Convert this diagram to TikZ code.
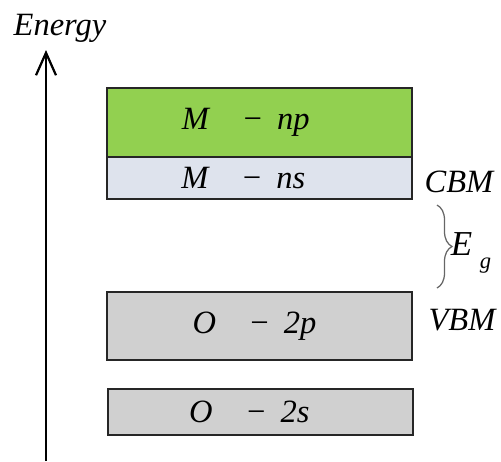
\documentclass[tikz,border=0pt]{standalone}
\usepackage{fontspec}
\setmainfont{Liberation Serif}
\usepackage{xcolor}
\usepackage{tikz}
\usetikzlibrary{positioning,arrows.meta,decorations.pathreplacing}

\definecolor{npgreen}{RGB}{146,208,80}
\definecolor{nsblue}{RGB}{222,227,237}
\definecolor{ogray}{RGB}{208,208,208}

\begin{document}
\begin{tikzpicture}[x=0.4pt,y=-0.4pt,
		band/.style={draw=black!85,line width=0.9pt,minimum width=122pt,inner sep=0pt,font=\fontsize{13}{15}\selectfont\itshape},
		side/.style={font=\fontsize{13}{15}\selectfont\itshape,inner sep=0pt}]
			
			\useasboundingbox (0,0) rectangle (501,461);
			
			\coordinate (base) at (46,461);
			\coordinate (top) at (46,50);
			\draw[line width=0.9pt,-{Straight Barb[length=9pt,width=8pt,line width=0.9pt]}] (base) -- (top);
			\node[side] (energy) at (60,28) {Energy};
			
			\node[band,fill=npgreen,minimum height=27.6pt] (np) at (259.5,122.5) {\hspace*{-11pt}M\quad − \,np};
			\node[band,fill=nsblue,minimum height=16.8pt] (ns) at (259.5,178) {\hspace*{-13pt}M\quad − \,ns};
			\node[band,fill=ogray,minimum height=27.2pt] (o2p) at (259.5,326) {\hspace*{-4pt}O\quad − \,2p};
			\node[band,fill=ogray,minimum height=18.4pt] (o2s) at (260.5,412) {\hspace*{-9pt}O\quad − \,2s};
			
			\node[side] (cbm) at (459,182) {CBM};
			\node[side] (vbm) at (462,320) {VBM};
			
			\coordinate (gaptop) at (437,205);
			\coordinate (gapbot) at (437,288);
			\draw[black!60,line width=0.5pt,decorate,decoration={brace,amplitude=6pt}] (gaptop) -- (gapbot);
			\node[side,font=\fontsize{14}{16}\selectfont\itshape] (eg) at (471,253) {E\kern3pt\raisebox{-5pt}{\fontsize{9}{10}\selectfont g}};
			
		\end{tikzpicture}
\end{document}
